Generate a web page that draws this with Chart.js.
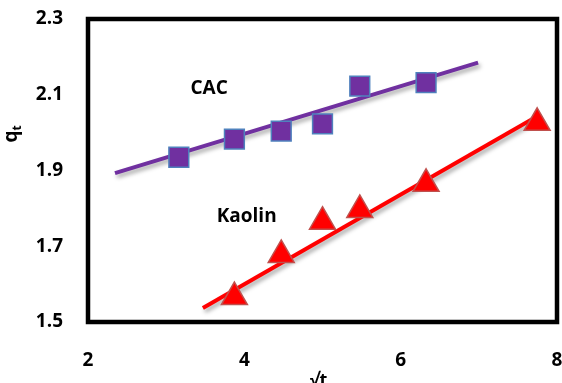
<!DOCTYPE html>
<html lang="en">
<head>
  <meta charset="UTF-8" />
  <title>qt vs sqrt(t)</title>
  <script src="https://cdn.jsdelivr.net/npm/chart.js"></script>
  <style>
    body {
      margin: 0;
      background: #fff;
    }
    canvas {
      display: block;
    }
  </style>
</head>
<body>
  <canvas id="chart" width="562" height="383"></canvas>

  <script>
    // === data ===
    const sqrtT = [3.162, 3.873, 4.472, 5.0, 5.477, 6.325];
    const kaolinT = [3.873, 4.472, 5.0, 5.477, 6.325, 7.746];
    const cacQ = [1.935, 1.983, 2.004, 2.023, 2.123, 2.132];
    const kaolinQ = [1.566, 1.677, 1.765, 1.796, 1.865, 2.026];

    // fitted lines (end points)
    const cacFitX = [2.345, 6.99];
    const cacFitY = [1.893, 2.185];
    const kaolinFitX = [3.47, 7.72];
    const kaolinFitY = [1.537, 2.04];

    const xTicks = [2, 4, 6, 8];
    const yTicks = [1.5, 1.7, 1.9, 2.1, 2.3];

    const FONT = "'Open Sans', Lato, sans-serif";

    const pts = (xs, ys) => xs.map((x, i) => ({ x: x, y: ys[i] }));

    // === box, series names, axis titles ===
    const decor = {
      id: 'decor',
      beforeDatasetsDraw(chart) {
        const { ctx, chartArea: a } = chart;
        ctx.save();
        ctx.strokeStyle = '#000';
        ctx.lineWidth = 4.5;
        ctx.strokeRect(a.left, a.top, a.right - a.left, a.bottom - a.top);
        ctx.restore();
      },
      beforeDatasetDraw(chart, args) {
        if (chart.data.datasets[args.index].showLine) {
          const ctx = chart.ctx;
          ctx.shadowColor = 'rgba(0,0,0,0.35)';
          ctx.shadowBlur = 4;
          ctx.shadowOffsetX = 2;
          ctx.shadowOffsetY = 3;
        }
      },
      afterDatasetDraw(chart) {
        const ctx = chart.ctx;
        ctx.shadowColor = 'rgba(0,0,0,0)';
        ctx.shadowBlur = 0;
        ctx.shadowOffsetX = 0;
        ctx.shadowOffsetY = 0;
      },
      afterDraw(chart) {
        const { ctx, chartArea: a, scales } = chart;
        ctx.save();
        ctx.fillStyle = '#000';
        ctx.textAlign = 'center';
        ctx.textBaseline = 'middle';

        // series names
        ctx.font = 'bold 19px ' + FONT;
        ctx.fillText('CAC', scales.x.getPixelForValue(3.55), scales.y.getPixelForValue(2.115));
        ctx.fillText('Kaolin', scales.x.getPixelForValue(4.03), scales.y.getPixelForValue(1.778));

        // x title
        ctx.font = 'bold 18px ' + FONT;
        ctx.fillText('\u221At', (a.left + a.right) / 2 - 4, 381);

        // y title q_t
        ctx.translate(15, 134);
        ctx.rotate(-Math.PI / 2);
        ctx.textAlign = 'left';
        ctx.font = 'bold 19px ' + FONT;
        const w = ctx.measureText('q').width;
        ctx.fillText('q', -(w + 5) / 2, -3);
        ctx.font = 'bold 12px ' + FONT;
        ctx.fillText('t', -(w + 5) / 2 + w, 3);
        ctx.restore();
      }
    };

    const ctx = document.getElementById('chart').getContext('2d');
    new Chart(ctx, {
      type: 'scatter',
      data: {
        datasets: [
          {
            label: 'CAC fit',
            data: pts(cacFitX, cacFitY),
            showLine: true,
            borderColor: '#7030A0',
            borderWidth: 4,
            pointRadius: 0,
            order: 3
          },
          {
            label: 'Kaolin fit',
            data: pts(kaolinFitX, kaolinFitY),
            showLine: true,
            borderColor: '#FF0000',
            borderWidth: 4,
            pointRadius: 0,
            order: 3
          },
          {
            label: 'CAC',
            data: pts(sqrtT, cacQ),
            pointStyle: 'rect',
            pointRadius: 14,
            pointHoverRadius: 14,
            backgroundColor: '#7030A0',
            borderColor: '#4F81BD',
            borderWidth: 1.5,
            order: 1
          },
          {
            label: 'Kaolin',
            data: pts(kaolinT, kaolinQ),
            pointStyle: 'triangle',
            pointRadius: 15,
            pointHoverRadius: 15,
            backgroundColor: '#FF0000',
            borderColor: '#C0504D',
            borderWidth: 1.5,
            order: 1
          }
        ]
      },
      options: {
        responsive: false,
        animation: false,
        devicePixelRatio: 1,
        layout: { autoPadding: false, padding: { top: 19, right: 5, left: 0, bottom: 0 } },
        plugins: {
          legend: { display: false },
          tooltip: { enabled: false }
        },
        scales: {
          x: {
            type: 'linear',
            min: 2,
            max: 8,
            afterFit(scale) {
              scale.height = 61;
              scale.paddingLeft = 0;
              scale.paddingRight = 0;
            },
            afterBuildTicks(scale) { scale.ticks = xTicks.map(v => ({ value: v })); },
            grid: { display: false, drawTicks: false },
            border: { display: false },
            ticks: {
              padding: 27,
              maxRotation: 0,
              color: '#000',
              font: { family: FONT, size: 19, weight: 'bold' }
            }
          },
          y: {
            type: 'linear',
            min: 1.5,
            max: 2.3,
            afterFit(scale) {
              scale.width = 88;
              scale.paddingTop = 0;
              scale.paddingBottom = 0;
            },
            afterBuildTicks(scale) { scale.ticks = yTicks.map(v => ({ value: v })); },
            grid: { display: false, drawTicks: false },
            border: { display: false },
            ticks: {
              padding: 25,
              color: '#000',
              font: { family: FONT, size: 19, weight: 'bold' },
              callback: v => v.toFixed(1)
            }
          }
        }
      },
      plugins: [decor]
    });
  </script>
</body>
</html>
